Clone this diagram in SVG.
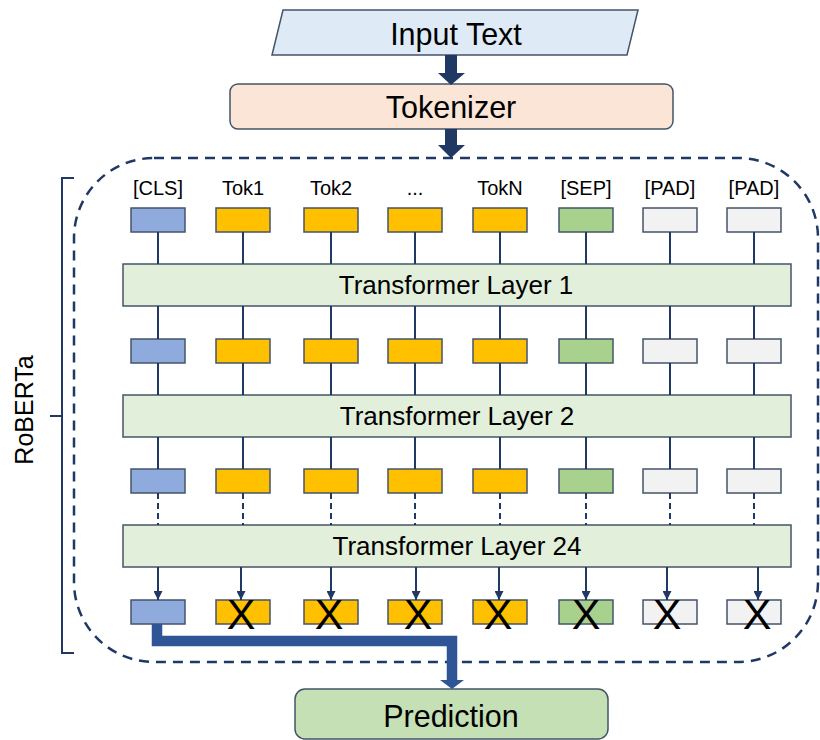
<svg xmlns="http://www.w3.org/2000/svg" width="820" height="740" viewBox="0 0 820 740">
<defs>
<style>
text{font-family:"Liberation Sans",Arial,sans-serif;fill:#000;text-anchor:middle}
.tok{stroke:#44546A;stroke-width:1.5}
.cls{fill:#8FAADC}.org{fill:#FFC000}.sep{fill:#A9D18E}.pad{fill:#F2F2F2}
.layer{fill:#E2EFDA;stroke:#44546A;stroke-width:1.5}
.lbl{font-size:20px}
.ltx{font-size:26px}
.big{font-size:30.5px}
.x{font-size:43px}
.ln{stroke:#203864;stroke-width:2;fill:none}
.dl{stroke:#203864;stroke-width:2;fill:none;stroke-dasharray:6 4}
</style>
<marker id="ah" markerWidth="9" markerHeight="9" refX="9" refY="4.5" orient="auto" markerUnits="userSpaceOnUse" viewBox="0 0 9 9">
<path d="M0,0 L9,4.5 L0,9 Z" fill="#203864"/>
</marker>
</defs>
<rect width="820" height="740" fill="#fff"/>

<g id="roberta-frame">
<rect x="74" y="158" width="744" height="504" rx="80" ry="80" fill="none" stroke="#203864" stroke-width="2.5" stroke-dasharray="10 7"/>
<path d="M74,178 L62,178 L62,653 L74,653 M50,416 L62,416" fill="none" stroke="#203864" stroke-width="2"/>
<text x="33" y="410" font-size="25" transform="rotate(-90 33 410)">RoBERTa</text>
</g>

<g id="input-text">
<polygon points="283,10 638,10 627,55 272,55" fill="#DEEBF7" stroke="#44546A" stroke-width="1.5"/>
<text class="big" x="456" y="45">Input Text</text>
</g>

<g id="tokenizer">
<rect x="230" y="84" width="443" height="45" rx="8" fill="#FBE5D6" stroke="#44546A" stroke-width="1.5"/>
<text class="big" x="451" y="118">Tokenizer</text>
</g>

<g id="prediction">
<rect x="295" y="689" width="313" height="50" rx="10" fill="#C5E0B4" stroke="#44546A" stroke-width="1.5"/>
<text class="big" x="451" y="727">Prediction</text>
</g>

<g id="layer1"><rect class="layer" x="123" y="264" width="668" height="42"/><text class="ltx" x="456" y="294">Transformer Layer 1</text></g>
<g id="layer2"><rect class="layer" x="123" y="395" width="668" height="42"/><text class="ltx" x="457" y="425">Transformer Layer 2</text></g>
<g id="layer24"><rect class="layer" x="123" y="525" width="668" height="42"/><text class="ltx" x="457" y="555">Transformer Layer 24</text></g>

<g id="labels" class="lbl">
<text x="158" y="195">[CLS]</text><text x="243" y="195">Tok1</text><text x="331" y="195">Tok2</text><text x="415" y="195">...</text>
<text x="500" y="195">TokN</text><text x="586" y="195">[SEP]</text><text x="670" y="195">[PAD]</text><text x="754" y="195">[PAD]</text>
</g>

<g id="tokens-row1">
<rect class="tok cls" x="131" y="208" width="54" height="24"/><rect class="tok org" x="216" y="208" width="54" height="24"/>
<rect class="tok org" x="304" y="208" width="54" height="24"/><rect class="tok org" x="388" y="208" width="54" height="24"/>
<rect class="tok org" x="473" y="208" width="54" height="24"/><rect class="tok sep" x="559" y="208" width="54" height="24"/>
<rect class="tok pad" x="643" y="208" width="54" height="24"/><rect class="tok pad" x="727" y="208" width="54" height="24"/>
</g>
<g id="tokens-row2">
<rect class="tok cls" x="131" y="339" width="54" height="24"/><rect class="tok org" x="216" y="339" width="54" height="24"/>
<rect class="tok org" x="304" y="339" width="54" height="24"/><rect class="tok org" x="388" y="339" width="54" height="24"/>
<rect class="tok org" x="473" y="339" width="54" height="24"/><rect class="tok sep" x="559" y="339" width="54" height="24"/>
<rect class="tok pad" x="643" y="339" width="54" height="24"/><rect class="tok pad" x="727" y="339" width="54" height="24"/>
</g>
<g id="tokens-row3">
<rect class="tok cls" x="131" y="469" width="54" height="24"/><rect class="tok org" x="216" y="469" width="54" height="24"/>
<rect class="tok org" x="304" y="469" width="54" height="24"/><rect class="tok org" x="388" y="469" width="54" height="24"/>
<rect class="tok org" x="473" y="469" width="54" height="24"/><rect class="tok sep" x="559" y="469" width="54" height="24"/>
<rect class="tok pad" x="643" y="469" width="54" height="24"/><rect class="tok pad" x="727" y="469" width="54" height="24"/>
</g>
<g id="tokens-row4">
<rect class="tok cls" x="131" y="600" width="54" height="24"/><rect class="tok org" x="216" y="600" width="54" height="24"/>
<rect class="tok org" x="304" y="600" width="54" height="24"/><rect class="tok org" x="388" y="600" width="54" height="24"/>
<rect class="tok org" x="473" y="600" width="54" height="24"/><rect class="tok sep" x="559" y="600" width="54" height="24"/>
<rect class="tok pad" x="643" y="600" width="54" height="24"/><rect class="tok pad" x="727" y="600" width="54" height="24"/>
</g>

<g id="connectors">
<path d="M451,55 V74" stroke="#203864" stroke-width="12"/>
<polygon points="438,73 465,73 451,85" fill="#203864"/>
<path d="M451,129 V146" stroke="#203864" stroke-width="12"/>
<polygon points="438,145 465,145 451,158" fill="#203864"/>

<path class="ln" d="M158,232V264M243,232V264M331,232V264M415,232V264M500,232V264M586,232V264M670,232V264M754,232V264"/>
<path class="ln" d="M158,306V339M243,306V339M331,306V339M415,306V339M500,306V339M586,306V339M670,306V339M754,306V339"/>
<path class="ln" d="M158,363V395M243,363V395M331,363V395M415,363V395M500,363V395M586,363V395M670,363V395M754,363V395"/>
<path class="ln" d="M158,437V469M243,437V469M331,437V469M415,437V469M500,437V469M586,437V469M670,437V469M754,437V469"/>
<path class="dl" d="M158,493V525M243,493V525M331,493V525M415,493V525M500,493V525M586,493V525M670,493V525M754,493V525"/>
<g class="ln" marker-end="url(#ah)">
<path d="M158,567V600"/><path d="M241,567V600"/><path d="M331,567V600"/><path d="M416,567V600"/>
<path d="M499,567V600"/><path d="M586,567V600"/><path d="M667,567V600"/><path d="M758,567V600"/>
</g>
<path d="M157,624 V641 H452 V681" fill="none" stroke="#2F5597" stroke-width="10.5"/>
<polygon points="440,680 464,680 452,689" fill="#2F5597"/>
</g>

<g id="discarded" class="x">
<text x="241" y="629">X</text><text x="329" y="629">X</text><text x="418" y="629">X</text><text x="498" y="629">X</text>
<text x="586" y="629">X</text><text x="667" y="629">X</text><text x="757" y="629">X</text>
</g>
</svg>
